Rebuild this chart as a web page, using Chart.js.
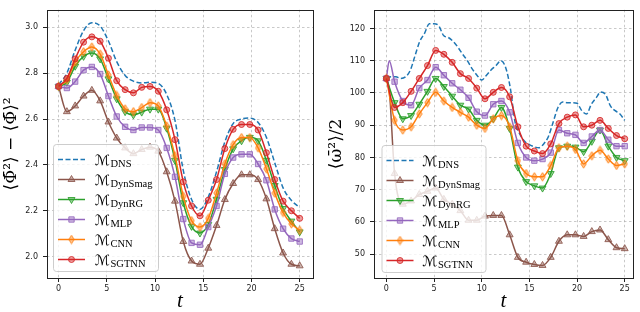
<!DOCTYPE html>
<html>
<head>
<meta charset="utf-8">
<script src="https://cdn.jsdelivr.net/npm/chart.js@4.4.1/dist/chart.umd.min.js"></script>
<style>
  body { margin: 0; background: #fff; }
  .panel { position: absolute; top: 0; width: 320px; height: 312px; }
</style>
</head>
<body>
<div class="panel" style="left:0"><canvas id="leftChart" width="320" height="312"></canvas></div>
<div class="panel" style="left:320px"><canvas id="rightChart" width="320" height="312"></canvas></div>
<script>
// ---- data ----
const names = ["DNS", "DynSmag", "DynRG", "MLP", "CNN", "SGTNN"];
const xTicks = [0, 5, 10, 15, 20, 25];
const yTicksLeft = [2.0, 2.2, 2.4, 2.6, 2.8, 3.0];
const yTicksRight = [50, 60, 70, 80, 90, 100, 110, 120];

// sample times (one per marker)
const t = [0, 0.86, 1.72, 2.59, 3.45, 4.31, 5.17, 6.03, 6.9, 7.76, 8.62, 9.48, 10.34, 11.21, 12.07,
           12.93, 13.79, 14.66, 15.52, 16.38, 17.24, 18.1, 18.97, 19.83, 20.69, 21.55, 22.41, 23.28, 24.14, 25];

// left panel: <Phi^2> - <Phi>^2
const dnsL  = [2.75, 2.80, 2.90, 2.985, 3.02, 3.005, 2.94, 2.85, 2.79, 2.765, 2.757, 2.76, 2.755, 2.707, 2.594,
               2.376, 2.249, 2.206, 2.26, 2.37, 2.50, 2.58, 2.60, 2.604, 2.585, 2.52, 2.41, 2.30, 2.245, 2.214];
const smagL = [2.742, 2.632, 2.657, 2.70, 2.725, 2.679, 2.587, 2.517, 2.474, 2.449, 2.467, 2.477, 2.46, 2.37, 2.242,
               2.066, 1.981, 1.967, 2.037, 2.136, 2.249, 2.319, 2.357, 2.357, 2.336, 2.252, 2.122, 2.016, 1.967, 1.96];
const rgL   = [2.742, 2.76, 2.83, 2.873, 2.888, 2.862, 2.775, 2.688, 2.632, 2.618, 2.63, 2.643, 2.643, 2.56, 2.42,
               2.235, 2.132, 2.103, 2.14, 2.25, 2.38, 2.47, 2.505, 2.52, 2.505, 2.42, 2.31, 2.21, 2.155, 2.108];
const mlpL  = [2.742, 2.735, 2.763, 2.813, 2.827, 2.796, 2.70, 2.611, 2.566, 2.552, 2.563, 2.563, 2.552, 2.474, 2.348,
               2.164, 2.06, 2.052, 2.129, 2.221, 2.361, 2.432, 2.446, 2.446, 2.404, 2.333, 2.206, 2.122, 2.079, 2.066];
const cnnL  = [2.742, 2.77, 2.848, 2.893, 2.914, 2.883, 2.792, 2.703, 2.644, 2.632, 2.65, 2.671, 2.657, 2.57, 2.44,
               2.263, 2.157, 2.129, 2.167, 2.277, 2.404, 2.488, 2.519, 2.519, 2.474, 2.383, 2.277, 2.192, 2.143, 2.115];
const sgtL  = [2.742, 2.777, 2.862, 2.935, 2.958, 2.939, 2.865, 2.767, 2.728, 2.714, 2.738, 2.742, 2.721, 2.64, 2.51,
               2.326, 2.221, 2.178, 2.246, 2.336, 2.471, 2.555, 2.576, 2.576, 2.552, 2.453, 2.336, 2.242, 2.2, 2.167];

// right panel: <omega^2>/2 (DNS has no markers, finer sampling)
const tDnsR = [0, 0.5, 1, 1.5, 2, 2.5, 3, 3.5, 4, 4.5, 5, 5.5, 6, 6.5, 7, 7.5, 8, 8.5, 9, 9.5, 10, 10.5, 11, 11.5, 12,
               12.5, 13, 13.5, 14, 14.5, 15, 15.5, 16, 16.5, 17, 17.5, 18, 18.5, 19, 19.5, 20, 20.5, 21, 21.5, 22,
               22.5, 23, 23.5, 24, 24.5, 25];
const dnsR  = [104.5, 105, 105, 104.5, 105, 107, 111.5, 116, 118.5, 121.5, 121.5, 120.8, 117.8, 117.2, 116, 114.2,
               112, 110, 107.5, 105.5, 104, 105.5, 107.2, 108.5, 110, 108, 101.5, 91, 87.2, 85, 84, 83.3, 83, 84.2,
               86.5, 91, 95.5, 97.2, 97, 97, 96.8, 94.5, 93.5, 96.5, 98.5, 100.3, 99.5, 96, 94.5, 93.5, 91.5];
const smagR = [104.5, 75, 65.5, 66.5, 68.5, 69.5, 70.5, 67, 65.5, 63.5, 60.5, 60.5, 61.8, 62, 62,
               56, 49, 47.5, 46.8, 46.5, 49, 54, 56, 56, 55.5, 57, 57.5, 54.5, 52, 51.7];
const rgR   = [104.5, 97, 92, 93, 96.5, 100.5, 104.5, 102, 99, 96.2, 95, 91.5, 90, 92, 95.5,
               89, 77, 72.5, 71.2, 70.5, 75, 83, 83.5, 83.2, 81.8, 85, 88.5, 83.5, 80, 79];
const mlpR  = [104.5, 103.5, 97.5, 96.2, 101.5, 104, 108, 105.5, 103, 101, 98.5, 94.2, 93, 96.5, 97.5,
               94, 84.5, 80, 79, 79.5, 81.5, 88.5, 87.5, 87, 84.5, 86.5, 88.5, 85.5, 83.5, 83.5];
const cnnR  = [104.5, 91.5, 88.5, 89.5, 93.5, 97, 100.2, 97.5, 95.5, 94, 92.5, 90, 89, 92, 93,
               89.5, 79, 75, 74, 74, 77.5, 83, 83.5, 82.5, 78, 80.5, 82.2, 79.5, 77.5, 78];
const sgtR  = [104.5, 95.5, 97, 100.5, 104.5, 108.5, 113.2, 112, 109.5, 106, 104.5, 101.5, 98.2, 100.2, 101.7,
               98.8, 89.5, 83.5, 82, 81.2, 84.2, 90.5, 92.5, 93.2, 89.5, 90, 91.5, 89, 86.8, 85.8];
// unmarked samples between the first two markers (initial transient)
const spikeT = [0.3];
const spikeMlpR = [110];
const spikeSmagR = [101];

// ---- styling ----
const colors = ["#1f77b4", "#8c564b", "#2ca02c", "#9467bd", "#ff7f0e", "#d62728"];

const rgba = (hex, a) => {
    const n = parseInt(hex.slice(1), 16);
    return "rgba(" + (n >> 16) + "," + ((n >> 8) & 255) + "," + (n & 255) + "," + a + ")";
};

const thinDiamond = (hex) => {
    const cv = document.createElement("canvas");
    cv.width = 7; cv.height = 10;
    const c = cv.getContext("2d");
    c.beginPath();
    c.moveTo(3.5, 0.8); c.lineTo(6.2, 5); c.lineTo(3.5, 9.2); c.lineTo(0.8, 5);
    c.closePath();
    c.fillStyle = rgba(hex, 0.45); c.fill();
    c.strokeStyle = rgba(hex, 0.85); c.lineWidth = 1; c.stroke();
    return cv;
};

const pointStyles = [false, "triangle", "triangle", "rect", thinDiamond(colors[4]), "circle"];
const pointRot = [0, 0, 180, 0, 0, 0];
const pointRad = [0, 4, 4, 3.8, 4, 3];

const buildPoints = (xs, ys, ex, ey) => {
    const pts = xs.map((x, k) => ({x: x, y: ys[k]}));
    if (ex) ex.forEach((x, k) => pts.push({x: x, y: ey[k], hide: true}));
    return pts.sort((a, b) => a.x - b.x);
};

const buildSets = (xs, ys, extras) => names.map((n, i) => ({
    label: n,
    data: buildPoints(xs[i], ys[i], extras[i] && extras[i][0], extras[i] && extras[i][1]),
    borderColor: colors[i],
    borderWidth: 1.5,
    borderDash: i === 0 ? [5, 2.5] : [],
    pointStyle: pointStyles[i],
    pointRotation: pointRot[i],
    pointRadius: (c) => (i === 0 || (c.raw && c.raw.hide)) ? 0 : pointRad[i],
    pointBackgroundColor: rgba(colors[i], 0.45),
    pointBorderColor: rgba(colors[i], 0.85),
    pointBorderWidth: 1,
    cubicInterpolationMode: "monotone",
    fill: false,
    order: 5 - i
}));

// marker for the legend rows
const drawMarker = (c, i, x, y) => {
    const st = pointStyles[i];
    if (!st) return;
    if (typeof st === "object") { c.drawImage(st, x - st.width / 2, y - st.height / 2); return; }
    const r = pointRad[i];
    c.beginPath();
    if (st === "circle") {
        c.arc(x, y, r, 0, Math.PI * 2);
    } else if (st === "rect") {
        const h = r * Math.SQRT1_2;
        c.rect(x - h, y - h, 2 * h, 2 * h);
    } else {
        let a = pointRot[i] * Math.PI / 180;
        for (let k = 0; k < 3; k++) {
            const px = x + Math.sin(a) * r, py = y - Math.cos(a) * r;
            k === 0 ? c.moveTo(px, py) : c.lineTo(px, py);
            a += 2 * Math.PI / 3;
        }
        c.closePath();
    }
    c.fillStyle = rgba(colors[i], 0.45); c.fill();
    c.strokeStyle = rgba(colors[i], 0.85); c.lineWidth = 1; c.stroke();
};

// axes frame + math legend
const frameAndLegend = {
    id: "frameAndLegend",
    afterDraw(chart, args, o) {
        const c = chart.ctx;
        const a = chart.chartArea;
        c.save();
        c.strokeStyle = "#222";
        c.lineWidth = 1;
        c.strokeRect(Math.round(a.left) + 0.5, Math.round(a.top) + 0.5,
                     Math.round(a.right - a.left), Math.round(a.bottom - a.top));

        c.beginPath();
        if (c.roundRect) c.roundRect(o.x + 0.5, o.y + 0.5, o.w, o.h, 3);
        else c.rect(o.x + 0.5, o.y + 0.5, o.w, o.h);
        c.fillStyle = "rgba(255,255,255,0.8)";
        c.fill();
        c.strokeStyle = "rgba(200,200,200,0.9)";
        c.stroke();

        names.forEach((n, i) => {
            const y = o.y + o.first + i * o.gap;
            const x0 = o.x + o.pad;
            c.strokeStyle = colors[i];
            c.lineWidth = 1.5;
            c.setLineDash(i === 0 ? [5, 2.5] : []);
            c.beginPath(); c.moveTo(x0, y); c.lineTo(x0 + o.line, y); c.stroke();
            c.setLineDash([]);
            drawMarker(c, i, x0 + o.line / 2, y);

            const tx = x0 + o.line + o.textGap;
            c.fillStyle = "#000";
            c.textBaseline = "alphabetic";
            c.font = '14px "DejaVu Serif", "DejaVu Sans"';
            c.fillText("\u2133", tx, y + 5);
            const w = c.measureText("\u2133").width;
            c.font = '10.5px "Liberation Serif", serif';
            c.fillText(n, tx + w + 0.5, y + 7.5);
        });
        c.restore();
    }
};

const makeChart = (id, datasets, yMin, yMax, yTicks, yFmt, yTitle, xMin, xMax, yAxisW, yTitlePad, legend) => {
    return new Chart(document.getElementById(id), {
        type: "line",
        data: {datasets: datasets},
        plugins: [frameAndLegend],
        options: {
            responsive: false,
            animation: false,
            devicePixelRatio: 1,
            events: [],
            layout: {padding: {left: 0, right: 7, top: 1, bottom: 0}},
            plugins: {
                legend: {display: false},
                tooltip: {enabled: false},
                frameAndLegend: legend
            },
            scales: {
                x: {
                    type: "linear",
                    min: xMin,
                    max: xMax,
                    afterBuildTicks: (s) => { s.ticks = xTicks.map(v => ({value: v})); },
                    afterFit: (s) => { s.height = 34; },
                    grid: {color: "rgba(170,170,170,0.8)", lineWidth: 0.8, tickColor: "#222", tickLength: 4,
                           tickWidth: 1, tickBorderDash: []},
                    border: {display: false, dash: [2.5, 2.5]},
                    ticks: {color: "#222", padding: 2, maxRotation: 0,
                            font: {family: "DejaVu Sans", size: 8}},
                    title: {display: true, text: "t", color: "#000", padding: {top: 0, bottom: 0},
                            font: {family: "Liberation Serif", size: 21, style: "italic", lineHeight: 1}}
                },
                y: {
                    type: "linear",
                    min: yMin,
                    max: yMax,
                    afterBuildTicks: (s) => { s.ticks = yTicks.map(v => ({value: v})); },
                    afterFit: (s) => { s.width = yAxisW; },
                    grid: {color: "rgba(170,170,170,0.8)", lineWidth: 0.8, tickColor: "#222", tickLength: 4,
                           tickWidth: 1, tickBorderDash: []},
                    border: {display: false, dash: [2.5, 2.5]},
                    ticks: {color: "#222", padding: 5, callback: yFmt,
                            font: {family: "DejaVu Sans", size: 8}},
                    title: {display: true, text: yTitle, color: "#000", padding: {top: yTitlePad, bottom: 0},
                            font: {family: '"DejaVu Serif", "DejaVu Sans"', size: 17, lineHeight: 1}}
                }
            }
        }
    });
};

const leftSets = buildSets([t, t, t, t, t, t], [dnsL, smagL, rgL, mlpL, cnnL, sgtL], []);
const rightSets = buildSets([tDnsR, t, t, t, t, t], [dnsR, smagR, rgR, mlpR, cnnR, sgtR],
                            [null, [spikeT, spikeSmagR], null, [spikeT, spikeMlpR], null, null]);

makeChart("leftChart", leftSets, 1.907, 3.076, yTicksLeft, (v) => v.toFixed(1),
          "\u27E8\u03A6\u0304\u00B2\u27E9 \u2212 \u27E8\u03A6\u0304\u27E9\u00B2", -1.2, 26.38, 47, 3.5,
          {x: 53, y: 144, w: 105, h: 127, first: 15.5, gap: 20, pad: 5, line: 27, textGap: 10});

makeChart("rightChart", rightSets, 42.6, 125.8, yTicksRight, (v) => String(v),
          "\u27E8\u03C9\u0304\u00B2\u27E9/2", -1.3, 25.87, 54, 8.5,
          {x: 61.5, y: 145, w: 104, h: 127, first: 15.5, gap: 20, pad: 5, line: 27, textGap: 9});
</script>
</body>
</html>
